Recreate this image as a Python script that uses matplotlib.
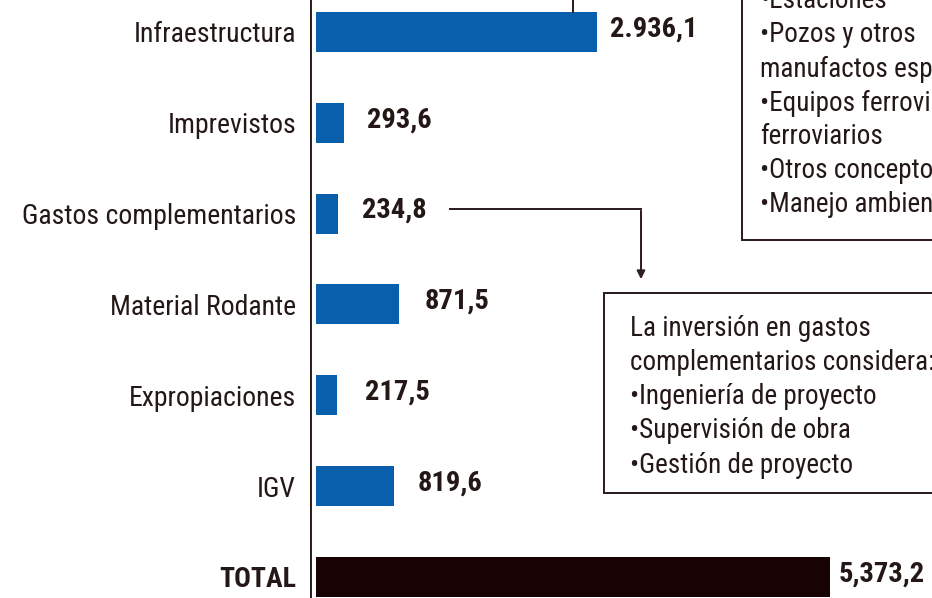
import matplotlib
matplotlib.use("Agg")
import matplotlib.pyplot as plt
from matplotlib import font_manager
from matplotlib.patches import Rectangle

# data
categories = ["Infraestructura", "Imprevistos", "Gastos complementarios",
              "Material Rodante", "Expropiaciones", "IGV", "TOTAL"]
values = [2936.1, 293.6, 234.8, 871.5, 217.5, 819.6, 5373.2]
value_labels = ["2.936,1", "293,6", "234,8", "871,5", "217,5", "819,6", "5,373,2"]

box_top_lines = ["•Estaciones", "•Pozos y otros", "manufactos especiales",
                 "•Equipos ferroviarios y no", "ferroviarios",
                 "•Otros conceptos", "•Manejo ambiental"]
box_bottom_lines = ["La inversión en gastos", "complementarios considera:",
                    "•Ingeniería de proyecto", "•Supervisión de obra",
                    "•Gestión de proyecto"]


def pick_font(names):
    for n in names:
        try:
            font_manager.findfont(font_manager.FontProperties(family=n),
                                  fallback_to_default=False)
            return n
        except ValueError:
            pass
    return "DejaVu Sans"


FONT = pick_font(["Liberation Sans Narrow", "Roboto Condensed",
                  "DejaVu Sans Condensed", "Roboto"])
plt.rcParams["font.family"] = [FONT, "DejaVu Sans"]

W, H = 932, 598
DARK = "#231815"
BLUE = "#0a5fad"
PX = 72 / 100  # points per pixel

fig = plt.figure(figsize=(W / 100, H / 100), dpi=100)

ax = fig.add_axes([316 / W, 0, 616 / W, 1])
ax.set_xlim(0, 616 / 0.0957)
ax.set_ylim(6.233, -0.352)
ypos = list(range(len(categories)))
colors = [BLUE] * (len(values) - 1) + ["#170303"]
ax.barh(ypos, values, height=0.44, color=colors)

for s in ["top", "right", "bottom"]:
    ax.spines[s].set_visible(False)
ax.spines["left"].set_position(("outward", 5 * PX))
ax.spines["left"].set_linewidth(2 * PX)
ax.spines["left"].set_color("#2e2020")
ax.set_xticks([])
ax.set_yticks(ypos, categories)
ax.tick_params(axis="y", length=0, pad=15 * PX, labelsize=20, labelcolor=DARK)
ax.get_yticklabels()[-1].set_fontweight("bold")

label_pad = [13, 23, 24, 25, 28, 23, 8]
for i, (v, lab) in enumerate(zip(values, value_labels)):
    ax.annotate(lab, xy=(v, i), xytext=(label_pad[i] * PX, 3 * PX),
                textcoords="offset points", ha="left", va="center",
                fontsize=20.5, fontweight="bold", color=DARK)

# overlay in pixel coordinates for the note boxes and connectors
ov = fig.add_axes([0, 0, 1, 1])
ov.set_xlim(0, W)
ov.set_ylim(H, 0)
ov.axis("off")
ov.patch.set_alpha(0)

ov.add_patch(Rectangle((742, -20), 260, 260, facecolor="white",
                       edgecolor="#2e2020", linewidth=2 * PX))
for k, line in enumerate(box_top_lines):
    ov.text(760, 1 + 34 * k, line, ha="left", va="center",
            fontsize=19.5, color=DARK)
ov.plot([573, 573], [0, 12], color="#2e2020", lw=2 * PX)

ov.add_patch(Rectangle((604, 293), 400, 200, facecolor="white",
                       edgecolor="#2e2020", linewidth=2 * PX))
for k, line in enumerate(box_bottom_lines):
    ov.text(630, 328 + 34.3 * k, line, ha="left", va="center",
            fontsize=19.5, color=DARK)

ov.plot([450, 641], [209, 209], color="#2e2020", lw=2 * PX)
ov.annotate("", xy=(641, 282), xytext=(641, 208),
            arrowprops=dict(arrowstyle="-|>", color="#2e2020",
                            lw=2 * PX, mutation_scale=12))

fig.savefig("out.png", dpi=100)
